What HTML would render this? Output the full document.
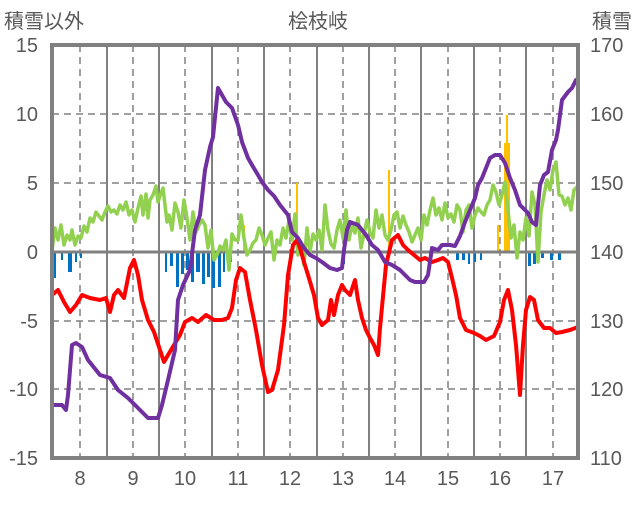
<!DOCTYPE html>
<html><head><meta charset="utf-8"><style>
body{margin:0;background:#fff;}
svg text{font-family:"Liberation Sans","Noto Sans CJK JP",sans-serif;fill:#595959;}
</style></head><body>
<svg width="636" height="501" viewBox="0 0 636 501" xmlns="http://www.w3.org/2000/svg">
<text x="4" y="28" font-size="20">積雪以外</text>
<text x="318" y="28" font-size="20" text-anchor="middle">桧枝岐</text>
<text x="632" y="28" font-size="20" text-anchor="end">積雪</text>
<g font-size="20" text-anchor="end">
<text x="38" y="52">15</text><text x="38" y="121">10</text><text x="38" y="190">5</text><text x="38" y="259">0</text><text x="38" y="328">-5</text><text x="38" y="396">-10</text><text x="38" y="465">-15</text>
</g>
<g font-size="20">
<text x="590" y="52">170</text><text x="590" y="121">160</text><text x="590" y="190">150</text><text x="590" y="259">140</text><text x="590" y="328">130</text><text x="590" y="396">120</text><text x="590" y="465">110</text>
</g>
<g font-size="20" text-anchor="middle">
<text x="80" y="485">8</text><text x="133" y="485">9</text><text x="185" y="485">10</text><text x="238" y="485">11</text><text x="290" y="485">12</text><text x="343" y="485">13</text><text x="395" y="485">14</text><text x="448" y="485">15</text><text x="500" y="485">16</text><text x="553" y="485">17</text>
</g>
<g stroke="#808080" stroke-width="1.5" stroke-dasharray="7,5">
<path d="M52 114H578M52 183H578M52 321H578M52 389H578"/>
<path d="M80 45V458M133 45V458M185 45V458M238 45V458M290 45V458M343 45V458M395 45V458M448 45V458M500 45V458M553 45V458"/>
</g>
<g stroke="#808080" stroke-width="2">
<path d="M107 45V458M159 45V458M212 45V458M264 45V458M317 45V458M369 45V458M421 45V458M474 45V458M526 45V458"/>
</g>
<g fill="#0070c0">
<rect x="54" y="252" width="2" height="26"/><rect x="61" y="252" width="2" height="8"/><rect x="68" y="252" width="4" height="20"/><rect x="75" y="252" width="2" height="10"/><rect x="80" y="252" width="2" height="6"/>
<rect x="165" y="252" width="2" height="20"/><rect x="170" y="252" width="3" height="14"/><rect x="176" y="252" width="3" height="35"/><rect x="181" y="252" width="3" height="22"/><rect x="186" y="252" width="3" height="18"/><rect x="191" y="252" width="3" height="30"/><rect x="196" y="252" width="4" height="20"/><rect x="202" y="252" width="3" height="32"/><rect x="207" y="252" width="3" height="25"/><rect x="212" y="252" width="3" height="36"/><rect x="218" y="252" width="3" height="35"/><rect x="223" y="252" width="2" height="20"/><rect x="230" y="252" width="2" height="10"/>
<rect x="342" y="252" width="3" height="12"/><rect x="456" y="252" width="3" height="8"/><rect x="462" y="252" width="3" height="8"/><rect x="468" y="252" width="2" height="12"/><rect x="474" y="252" width="2" height="10"/><rect x="480" y="252" width="2" height="8"/><rect x="528" y="252" width="3" height="14"/><rect x="533" y="252" width="3" height="12"/><rect x="541" y="252" width="3" height="6"/><rect x="550" y="252" width="3" height="8"/><rect x="558" y="252" width="3" height="8"/>
</g>
<g fill="#ffc000">
<rect x="243" y="225" width="2" height="27"/><rect x="296" y="183" width="2" height="69"/><rect x="388" y="170" width="2" height="82"/><rect x="497" y="225" width="2" height="27"/><rect x="504" y="143" width="6" height="109"/><rect x="506" y="115" width="2" height="30"/>
</g>
<path d="M52 252H578" stroke="#808080" stroke-width="3"/>
<polyline fill="none" stroke="#92d050" stroke-width="3.5" stroke-linejoin="round" points="52,250 55,228 58,240 61,225 64,245 67,235 70,240 72,230 75,245 78,236 81,238 84,226 87,232 90,218 93,222 96,212 99,216 102,220 105,212 108,206 111,212 114,210 117,214 120,205 123,210 126,202 129,215 132,210 135,222 138,208 141,196 143,215 146,194 148,218 150,200 153,195 156,186 158,202 160,196 163,188 165,205 167,222 169,215 172,230 175,203 178,212 181,228 184,200 187,218 190,240 193,212 196,232 199,225 202,220 205,225 208,248 211,230 214,260 217,255 220,246 223,250 226,240 229,270 232,234 235,240 238,240 241,215 244,238 247,255 250,250 253,243 256,240 259,228 262,235 265,245 268,238 271,232 274,260 277,240 280,245 283,228 286,238 289,220 292,240 295,214 298,255 301,245 304,265 307,228 310,252 313,234 316,240 319,230 322,250 325,205 328,230 331,244 334,248 337,230 340,220 343,238 346,210 349,240 352,225 355,233 358,218 361,248 364,234 367,220 370,232 373,238 376,210 379,228 382,215 385,235 388,240 391,230 394,215 397,212 400,228 403,216 406,225 409,232 412,242 418,228 421,240 424,215 427,225 430,210 433,198 436,215 439,208 442,220 445,203 448,218 451,214 454,222 457,205 460,210 463,232 466,210 469,205 472,228 475,215 478,208 481,212 484,215 487,205 490,200 493,185 496,192 499,205 502,195 505,182 508,210 511,238 514,225 517,258 520,232 523,240 526,218 529,236 532,192 535,205 538,262 541,212 544,195 547,180 550,190 553,170 556,162 559,195 562,196 565,205 568,198 571,210 574,190 578,186"/>
<polyline fill="none" stroke="#ff0000" stroke-width="4" stroke-linejoin="round" points="52,295 58,290 64,302 70,312 76,305 82,295 90,298 100,300 106,298 110,312 114,295 118,290 124,298 130,268 134,260 138,275 142,300 148,320 154,332 160,350 164,362 168,355 174,345 180,335 185,322 192,318 198,322 206,315 214,320 222,320 228,318 232,308 236,280 240,268 245,272 250,300 256,330 262,365 268,392 272,390 278,370 284,325 288,275 293,245 297,240 300,248 304,262 308,275 314,295 318,318 322,325 328,320 331,300 334,315 338,295 342,285 345,290 350,295 355,280 358,300 362,318 366,330 370,338 374,345 378,355 380,328 386,265 392,240 398,235 403,245 408,250 414,255 420,260 425,258 432,262 438,260 443,258 448,262 452,278 456,295 460,318 466,330 474,333 480,336 486,340 494,336 500,322 504,300 508,290 512,310 516,345 520,395 523,345 526,310 530,297 534,300 538,320 544,328 550,328 556,333 562,332 570,330 578,327"/>
<polyline fill="none" stroke="#7030a0" stroke-width="4" stroke-linejoin="round" points="52,405 62,405 66,410 68,395 72,345 76,343 82,347 88,360 100,375 110,378 118,390 128,398 135,405 140,410 148,418 158,418 162,405 168,380 175,350 178,300 183,285 190,270 195,230 200,215 205,170 210,147 213,137 218,88 222,95 226,102 232,108 238,125 242,142 248,158 252,165 258,175 262,182 268,190 274,196 280,205 288,215 292,232 298,238 304,248 310,255 316,258 322,262 330,268 337,270 342,268 344,250 347,230 350,222 358,225 366,235 372,245 378,250 385,262 392,265 400,270 405,275 410,280 415,282 424,282 428,275 432,248 438,250 442,245 450,245 455,246 460,236 465,222 470,210 475,198 478,185 482,178 486,168 490,158 495,155 500,155 505,163 510,178 515,190 520,205 528,213 532,222 536,225 540,185 544,175 548,172 552,150 556,140 558,130 562,100 568,92 572,88 576,80 580,80"/>
<rect x="52" y="45" width="526" height="413" fill="none" stroke="#808080" stroke-width="4"/>
</svg>
</body></html>
